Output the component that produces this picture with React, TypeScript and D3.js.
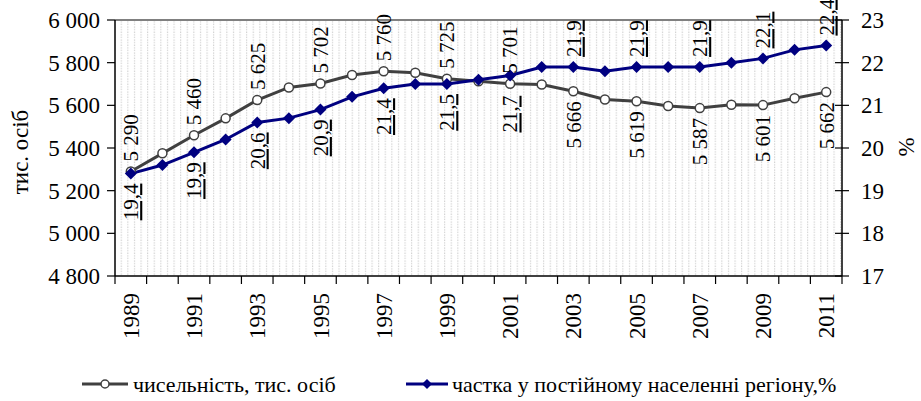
import * as d3 from "d3";

const years = [
  1989, 1990, 1991, 1992, 1993, 1994, 1995, 1996, 1997, 1998, 1999, 2000,
  2001, 2002, 2003, 2004, 2005, 2006, 2007, 2008, 2009, 2010, 2011,
];
const population = [
  5290, 5375, 5460, 5539, 5625, 5684, 5702, 5742, 5760, 5753, 5725, 5713,
  5701, 5698, 5666, 5627, 5619, 5597, 5587, 5603, 5601, 5633, 5662,
];
const share = [
  19.4, 19.6, 19.9, 20.2, 20.6, 20.7, 20.9, 21.2, 21.4, 21.5, 21.5, 21.6,
  21.7, 21.9, 21.9, 21.8, 21.9, 21.9, 21.9, 22.0, 22.1, 22.3, 22.4,
];
const leftTicks = [4800, 5000, 5200, 5400, 5600, 5800, 6000];
const rightTicks = [17, 18, 19, 20, 21, 22, 23];
const leftTitle = "тис. осіб";
const rightTitle = "%";
const legendPop = "чисельність, тис. осіб";
const legendShare = "частка у постійному населенні регіону,%";

const W = 921;
const H = 401;
const left = 115;
const right = 842;
const top = 20;
const bottom = 276;
const font = "'Times New Roman', Times, Tinos, 'Liberation Serif', 'DejaVu Serif', 'Noto Serif', serif";
const popColor = "#404040";
const shareColor = "#000080";

const fmtPop = (v) => d3.format(",")(v).replace(/,/g, " ");
const fmtShare = (v) => v.toFixed(1).replace(".", ",");

export default function App() {
  const x = d3.scaleBand().domain(years.map(String)).range([left, right]);
  const cx = (yr) => x(String(yr)) + x.bandwidth() / 2;
  const yL = d3.scaleLinear().domain([4800, 6000]).range([bottom, top]);
  const yR = d3.scaleLinear().domain([17, 23]).range([bottom, top]);

  const popLine = d3
    .line()
    .x((d, i) => cx(years[i]))
    .y((d) => yL(d));
  const shareLine = d3
    .line()
    .x((d, i) => cx(years[i]))
    .y((d) => yR(d));

  const diamond = (px, py, r) =>
    `M${px},${py - r}L${px + r},${py}L${px},${py + r}L${px - r},${py}Z`;

  const gap = 10;

  return (
    <svg
      width={W}
      height={H}
      style={{ position: "absolute", left: 0, top: 0, background: "#fff" }}
      fontFamily={font}
    >
      <defs>
        <pattern id="dots" width={6.6} height={2.6} patternUnits="userSpaceOnUse">
          <rect x={2} y={0.5} width={1} height={1} fill="#b8b8b8" />
        </pattern>
      </defs>
      <rect x={left} y={top} width={right - left} height={bottom - top} fill="url(#dots)" />
      <line x1={left} x2={right} y1={top} y2={top} stroke="#808080" strokeWidth={2} />

      {/* axes */}
      <line x1={left} x2={left} y1={top} y2={bottom} stroke="#000" strokeWidth={1.5} />
      <line x1={right} x2={right} y1={top} y2={bottom} stroke="#000" strokeWidth={1.5} />
      <line x1={left} x2={right} y1={bottom} y2={bottom} stroke="#000" strokeWidth={1.5} />

      {leftTicks.map((t) => (
        <g key={t}>
          <line x1={107} x2={left} y1={yL(t)} y2={yL(t)} stroke="#000" strokeWidth={1.2} />
          <text x={100} y={yL(t)} dy="0.35em" textAnchor="end" fontSize={23}>
            {fmtPop(t)}
          </text>
        </g>
      ))}
      {rightTicks.map((t) => (
        <g key={t}>
          <line x1={right - 7} x2={right + 7} y1={yR(t)} y2={yR(t)} stroke="#000" strokeWidth={1.2} />
          <text x={861} y={yR(t)} dy="0.35em" textAnchor="start" fontSize={23}>
            {t}
          </text>
        </g>
      ))}
      {years.map((yr) => (
        <line
          key={yr}
          x1={x(String(yr))}
          x2={x(String(yr))}
          y1={bottom}
          y2={bottom + 8}
          stroke="#000"
          strokeWidth={1.2}
        />
      ))}
      <line x1={right} x2={right} y1={bottom} y2={bottom + 8} stroke="#000" strokeWidth={1.2} />
      {years
        .filter((yr) => yr % 2 === 1)
        .map((yr) => (
          <text
            key={yr}
            transform={`translate(${cx(yr)},293) rotate(-90)`}
            dy="0.35em"
            textAnchor="end"
            fontSize={23}
          >
            {yr}
          </text>
        ))}

      <text transform="translate(20,152) rotate(-90)" dy="0.35em" textAnchor="middle" fontSize={23}>
        {leftTitle}
      </text>
      <text transform="translate(906,147) rotate(-90)" dy="0.35em" textAnchor="middle" fontSize={23}>
        {rightTitle}
      </text>

      {/* lines */}
      <path d={popLine(population)} fill="none" stroke={popColor} strokeWidth={3} />
      <path d={shareLine(share)} fill="none" stroke={shareColor} strokeWidth={3} />
      {population.map((v, i) => (
        <circle key={i} cx={cx(years[i])} cy={yL(v)} r={4.5} fill="#fff" stroke={popColor} strokeWidth={1.5} />
      ))}
      {share.map((v, i) => (
        <path key={i} d={diamond(cx(years[i]), yR(v), 6)} fill={shareColor} />
      ))}

      {/* data labels */}
      {years.map((yr, i) => {
        if (yr % 2 === 0) return null;
        const above = yr < 2002;
        const py = yL(population[i]);
        return (
          <text
            key={"p" + yr}
            transform={`translate(${cx(yr)},${above ? py - gap : py + gap}) rotate(-90)`}
            dy="0.35em"
            textAnchor={above ? "start" : "end"}
            fontSize={21}
          >
            {fmtPop(population[i])}
          </text>
        );
      })}
      {years.map((yr, i) => {
        if (yr % 2 === 0) return null;
        const above = yr > 2002;
        const py = yR(share[i]);
        // push the label past the other series' marker when they sit close
        const other = yL(population[i]);
        const off = !above && other > py && other - py < 20 ? other - py + 12 : gap;
        return (
          <text
            key={"s" + yr}
            transform={`translate(${cx(yr)},${above ? py - gap : py + off}) rotate(-90)`}
            dy="0.35em"
            textAnchor={above ? "start" : "end"}
            fontSize={21}
            textDecoration="underline"
          >
            {fmtShare(share[i])}
          </text>
        );
      })}

      {/* legend */}
      <line x1={82} x2={128} y1={384} y2={384} stroke={popColor} strokeWidth={3} />
      <circle cx={105} cy={384} r={4} fill="#fff" stroke={popColor} strokeWidth={1.5} />
      <text x={133} y={384} dy="0.35em" fontSize={22}>
        {legendPop}
      </text>
      <line x1={406} x2={448} y1={384} y2={384} stroke={shareColor} strokeWidth={3} />
      <path d={diamond(427, 384, 5)} fill={shareColor} />
      <text x={452} y={384} dy="0.35em" fontSize={22}>
        {legendShare}
      </text>
    </svg>
  );
}
